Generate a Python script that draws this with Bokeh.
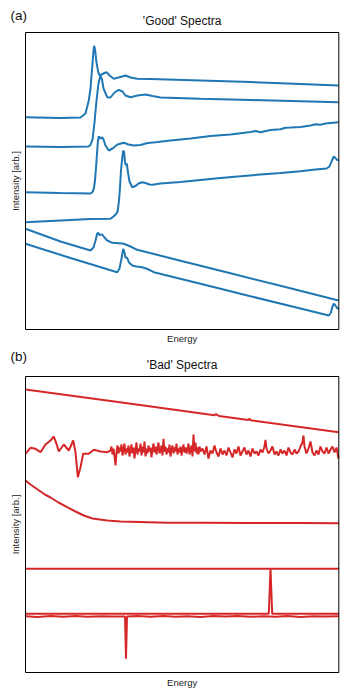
import math
from bokeh.plotting import figure
from bokeh.models import Range1d, Label
from bokeh.layouts import column
from bokeh.embed import file_html
from bokeh.resources import INLINE

BLUE = "#1f77b4"
RED = "#d62728"
FONT = "Liberation Sans"

# ---------------- 'Good' spectra (energy, intensity; arbitrary units) ----------------
good1_e = [0, 35, 55, 60, 63.3, 65, 66.7, 68, 68.7, 69.7, 70.7, 72.7, 74.3, 76, 78, 81, 84, 88.3, 93, 100, 105, 111.7, 125, 175, 225, 275, 313]
good1_i = [212.3, 211.5, 212, 216, 229, 241, 262.3, 279, 283.7, 279, 269, 257.3, 254, 255, 256, 257.3, 254, 250.7, 252, 254, 252, 250.7, 250.5, 249, 247.5, 245.5, 244]

good2_e = [0, 35, 63, 65, 67, 69, 71, 73, 75, 76.5, 78, 81.7, 85, 89, 93.3, 97, 100, 105, 112, 120, 127, 135, 175, 225, 275, 313]
good2_i = [183, 182.5, 183, 184.5, 190, 207, 229, 246, 254, 250, 241, 232.3, 232, 237, 239.7, 238, 234, 232.3, 234, 235, 233.5, 232, 230.8, 229.5, 228.2, 227.3]

good3_e = [0, 35, 65, 67, 68.3, 69.5, 70.7, 71.7, 72.5, 73.3, 75, 76.7, 78, 80, 83.3, 87, 92, 98.3, 103, 108.3, 115, 122, 130, 145, 165, 185, 205, 225, 230, 235, 245, 255, 260, 265, 275, 285, 290, 295, 300, 313]
good3_i = [137.3, 136.5, 136, 137.5, 140.7, 149, 164, 179, 189, 193, 191, 192.3, 190, 184, 179, 181, 185, 186.7, 185, 184, 184.5, 186.5, 187.3, 189, 191, 193.5, 195, 197.5, 198.5, 197.2, 199.5, 200.2, 201.8, 202, 202.5, 204, 205.2, 204.8, 206, 207.3]

good4_e = [0, 35, 65, 85, 88, 91, 92.3, 93.5, 94.3, 95.5, 96.7, 97.7, 98.7, 99.5, 100.5, 101.3, 102.5, 104, 106.7, 110, 113, 116.7, 120, 124, 127, 135, 155, 175, 195, 215, 235, 255, 275, 290, 301, 304, 306, 308.3, 310, 311.5, 313]
good4_i = [107.3, 109, 110.5, 110.7, 113, 116, 119, 129, 139, 159, 171, 179, 177, 167, 164, 166, 157, 148, 142.3, 143.5, 146, 147.3, 146.5, 145, 144.7, 146, 147.5, 149.5, 151.5, 153.2, 155, 156.5, 158.2, 160, 161, 163, 168, 173, 171.5, 169.5, 169.5]

good5_e = [0, 35, 65, 68, 70, 71.7, 72.7, 74, 76.7, 79, 81.7, 87, 93, 98.3, 105, 111.7, 155, 205, 255, 313]
good5_i = [100.7, 88, 79, 82, 89, 96, 96.7, 94.5, 95, 92, 89, 86.7, 86.2, 85.7, 83, 79.7, 68.8, 56.2, 43.7, 29]

good6_e = [0, 45, 91.7, 94, 96, 97.7, 99, 100, 101.7, 103.5, 106.7, 111, 116.7, 122, 128.3, 175, 225, 275, 303.3, 305.5, 307, 308.3, 310, 311.5, 313.3]
good6_i = [85.7, 71.5, 57.3, 61, 71, 80.7, 77, 72, 71.7, 67, 64, 63, 62.3, 60.5, 57.3, 45.7, 33.2, 21, 14, 17, 23, 25.7, 24, 21.5, 20.7]

good_series = [(good1_e, good1_i), (good2_e, good2_i), (good3_e, good3_i),
               (good4_e, good4_i), (good5_e, good5_i), (good6_e, good6_i)]

# ---------------- 'Bad' spectra ----------------
bad1_e = [0, 100, 189, 190.5, 192, 193.5, 223, 224, 225, 313.3]
bad1_i = [283, 269.4, 257.2, 258.5, 257.3, 256.6, 252.6, 254, 252.3, 240.3]

bad2_e = [0, 5, 10, 15, 20, 25, 28.3, 31, 33.3, 38.3, 43.3, 47.7, 50, 52.3, 55, 57.7, 63.3, 68.3, 75, 81.7,
          85, 86, 87, 88, 89, 90, 91, 92, 93, 94, 95, 96, 97, 98, 99, 100, 101, 102, 103, 104, 105,
          106, 107, 108, 109, 110, 111, 112, 113, 114, 115, 116, 117, 118, 119, 120, 121, 122, 123, 124, 125,
          126, 127, 128, 129, 130, 131, 132, 133, 134, 135, 136, 137, 138, 139, 140, 141, 142, 143, 144, 145,
          146, 147, 148, 149, 150, 151, 152, 153, 154, 155, 156, 157, 158, 159, 160, 161, 162, 163, 164, 165,
          166, 167, 168, 169, 170, 171, 172, 173, 174, 175,
          177, 179, 181, 183, 185, 187, 189, 191, 193, 195, 197, 199, 201, 203, 205, 207, 209, 211, 213, 215,
          217, 219, 221, 223, 225, 227, 229, 231, 233, 235, 237, 239, 240, 241, 243, 245, 247, 249, 251, 253,
          255, 257, 259, 261, 263, 265, 267, 269, 271, 273, 275, 277, 278, 279, 281, 283, 285, 287, 289, 291,
          293, 295, 297, 299, 301, 303, 305, 307, 309, 311, 313]
bad2_i = [218.7, 224.7, 223.7, 220.3, 228, 232, 236, 228.7, 221, 228, 222, 232, 220.3, 195.3, 205.3, 218.7, 218.7, 222.7, 221, 220.3,
          222, 226, 218, 224, 216, 207, 220, 227, 219, 225, 221, 228, 217, 223, 229, 218, 224, 220, 227, 216, 222,
          228, 219, 225, 214, 223, 230, 218, 224, 221, 229, 217, 226, 220, 231, 216, 224, 219, 227, 221, 225,
          215, 223, 229, 220, 226, 218, 224, 230, 219, 222, 227, 217, 233.7, 221, 226, 218, 224, 220, 228, 216,
          223, 227, 219, 225, 221, 229, 218, 224, 220, 226, 217, 223, 228, 220, 225, 219, 223, 229, 218, 222,
          227, 216, 238, 221, 230, 219, 225, 218, 226, 221,
          224, 218, 226, 214, 222, 219, 227, 220, 216, 224, 218, 222, 217, 225, 220, 215, 223, 219, 226, 217,
          221, 225, 218, 222, 216, 224, 219, 221, 217, 223, 220, 226, 232.7, 224, 219, 222, 226, 218, 221, 217,
          223, 219, 222, 217, 225, 220, 218, 223, 219, 221, 226, 230, 237, 226, 219, 224, 231, 220, 217, 222,
          218, 226, 221, 219, 225, 219, 223, 226, 220, 225, 214]

bad3_e = [0, 5, 10, 18.3, 25, 33, 41.7, 50, 58.3, 67, 81.7, 95, 141.7, 175, 225, 275, 313.3]
bad3_i = [192, 188, 184.5, 178.7, 175, 170, 165.3, 161, 157, 154, 152, 151, 149.7, 149.7, 149.5, 149.4, 149.3]

bad4_e = [0, 313.3]
bad4_i = [103.7, 103.7]

bad5_e = [0, 243.3, 245, 246.7, 313.3]
bad5_i = [58.7, 58.7, 103.7, 58.7, 58.7]

bad6_e = [0, 12, 25, 38, 50, 62, 75, 88, 99.5, 100.5, 101.5, 112, 125, 138, 150, 162, 175, 188, 200,
          212, 225, 238, 250, 262, 275, 288, 300, 313.3]
bad6_i = [56.2, 55.6, 56.4, 55.8, 56.5, 55.7, 56.3, 55.9, 56.1, 13.7, 56.1, 56.5, 55.7, 56.4, 55.8, 56.3, 55.6, 56.4, 55.9,
          56.5, 55.7, 56.2, 55.8, 56.4, 55.6, 56.3, 55.9, 56.2]

bad_series = [(bad1_e, bad1_i), (bad2_e, bad2_i), (bad3_e, bad3_i),
              (bad4_e, bad4_i), (bad5_e, bad5_i), (bad6_e, bad6_i)]

E_MAX = 313.3


def make_panel(series, color, title, tag, height, y_lo, y_hi, y_top,
               title_y, tag_y, xlab_y):
    # the figure's frame spans the whole canvas; the axes box is drawn as a quad
    p = figure(width=349, height=height, output_backend="svg", toolbar_location=None,
               x_axis_location=None, y_axis_location=None,
               x_range=Range1d(-25, 324), y_range=Range1d(y_lo, y_hi),
               min_border=0)
    p.grid.visible = False
    p.outline_line_color = None
    p.background_fill_color = "white"
    p.border_fill_color = "white"
    for k, (e, i) in enumerate(series):
        p.line(e, i, line_color=color, line_width=2)
    p.quad(left=[0], right=[E_MAX], bottom=[0], top=[y_top],
           fill_color=None, line_color="black", line_width=1)
    p.add_layout(Label(x=E_MAX / 2, y=title_y, text=title, text_align="center",
                       text_baseline="middle", text_font=FONT, text_font_size="12px",
                       text_color="#111111"))
    p.add_layout(Label(x=-15, y=tag_y, text=tag, text_align="left",
                       text_baseline="middle", text_font=FONT, text_font_size="13.5px",
                       text_color="#111111"))
    p.add_layout(Label(x=E_MAX / 2, y=xlab_y, text="Energy", text_align="center",
                       text_baseline="middle", text_font=FONT, text_font_size="9.5px",
                       text_color="#222222"))
    p.add_layout(Label(x=-10, y=y_top / 2, text="Intensity [arb.]", text_align="center",
                       text_baseline="middle", angle=math.pi / 2, text_font=FONT,
                       text_font_size="9.5px", text_color="#222222"))
    return p


pa = make_panel(good_series, BLUE, "'Good' Spectra", "(a)", 348, -19, 329, 297,
                309, 314, -9)
pb = make_panel(bad_series, RED, "'Bad' Spectra", "(b)", 348, -24, 324, 296,
                308, 316.3, -9.7)

layout = column(pa, pb, spacing=0)
open("out.html", "w").write(file_html(layout, INLINE))
